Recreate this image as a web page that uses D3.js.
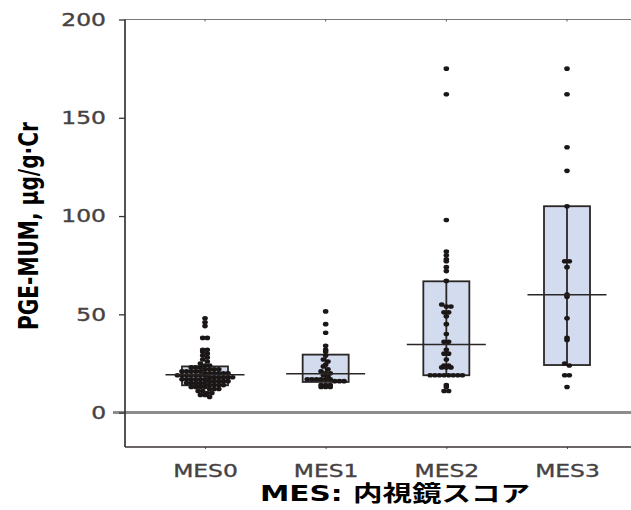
<!DOCTYPE html>
<html>
<head>
    <meta charset="utf-8" />
    <script src="https://d3js.org/d3.v7.min.js"></script>
    <style>
        body { margin: 0; background: #fff; }
        svg { display: block; }
    </style>
</head>
<body>
    <div id="chart"></div>
    <script>
        // data
        const categories = ["MES0", "MES1", "MES2", "MES3"];
        const q1 = [13.9, 15.6, 19, 24.2];
        const medians = [19.2, 19.8, 34.7, 60];
        const q3 = [23.5, 29.5, 66.8, 105];

        const mes0 = [48, 46, 44, 38, 38, 32, 32, 31, 30, 29, 28, 27, 26, 25, 24, 24, 23, 23, 23,
            22, 22, 22, 22, 21, 21, 21, 21, 21, 20, 20, 20, 20, 20, 20,
            19, 19, 19, 19, 19, 19, 19, 18, 18, 18, 18, 18, 18,
            17, 17, 17, 17, 17, 17, 16, 16, 16, 16, 16, 15, 15, 15, 15, 15,
            14, 14, 14, 14, 13, 13, 13, 13, 12, 12, 12, 11, 11, 10, 10, 9, 9, 8];
        const mes1 = [51.5, 45, 40.6, 34, 32, 31, 29, 27, 26, 24.4, 23.5, 22, 21, 20, 20, 19, 18.5,
            17, 17, 17, 17, 17, 17, 16, 16, 16, 14, 14, 14, 13, 13, 13];
        const mes2 = [175, 162, 98, 82, 80, 78, 77, 74, 72, 67, 55, 54, 54, 51, 51, 49, 45, 40,
            36, 36, 32, 30, 30, 27, 24, 24, 23, 23, 23, 19, 19, 19, 19, 19, 19, 19, 19, 14, 13, 11, 11];
        const mes3 = [175, 162, 135, 123, 105, 77, 77, 74, 60, 59, 48, 38, 37, 25, 24, 19, 19, 13];
        const points = [mes0, mes1, mes2, mes3];

        const yTicks = [0, 50, 100, 150, 200];
        const xTitle = "MES: 内視鏡スコア";
        const yTitle = "PGE-MUM, μg/g·Cr";

        const width = 631, height = 510;
        const plotLeft = 125, plotRight = 631, plotTop = 19.5, plotBottom = 447;
        // the original picture is stretched sideways, so text is widened too
        const stretch = 1.3;

        const svg = d3.select("#chart").append("svg")
            .attr("width", width)
            .attr("height", height);

        const y = d3.scaleLinear()
            .domain([-17.5, 200])
            .range([plotBottom, plotTop]);

        const x = d3.scalePoint()
            .domain(categories)
            .range([205, 567]);

        // frame line on top
        svg.append("line")
            .attr("x1", plotLeft).attr("x2", plotRight)
            .attr("y1", plotTop).attr("y2", plotTop)
            .attr("stroke", "#7a7a7a").attr("stroke-width", 1.2);

        // zero line
        svg.append("line")
            .attr("x1", 113).attr("x2", plotRight)
            .attr("y1", y(0)).attr("y2", y(0))
            .attr("stroke", "#8c8c8c").attr("stroke-width", 3);

        // y axis
        const yAxis = svg.append("g")
            .attr("transform", `translate(${plotLeft},0)`)
            .call(d3.axisLeft(y).tickValues(yTicks).tickSize(6).tickSizeOuter(0));
        yAxis.select(".domain").remove();
        yAxis.selectAll(".tick line").attr("stroke", "#3a3434").attr("stroke-width", 1.3);
        yAxis.selectAll(".tick text")
            .attr("x", -19 / stretch)
            .attr("transform", `scale(${stretch},1)`)
            .style("font-family", "DejaVu Sans, Verdana, sans-serif")
            .style("font-size", "18px")
            .attr("fill", "#464242")
            .attr("stroke", "#464242")
            .attr("stroke-width", 0.35);
        svg.append("line")
            .attr("x1", plotLeft).attr("x2", plotLeft)
            .attr("y1", plotTop).attr("y2", plotBottom)
            .attr("stroke", "#3a3434").attr("stroke-width", 1.7);

        // x axis
        const xAxis = svg.append("g")
            .attr("transform", `translate(0,${plotBottom})`)
            .call(d3.axisBottom(x).tickSize(2).tickSizeOuter(0));
        xAxis.select(".domain").remove();
        xAxis.selectAll(".tick line").attr("stroke", "#555");
        xAxis.selectAll(".tick text")
            .attr("y", 30)
            .attr("dy", 0)
            .attr("transform", `scale(${stretch},1)`)
            .style("font-family", "DejaVu Sans, Verdana, sans-serif")
            .style("font-size", "18px")
            .attr("fill", "#464242")
            .attr("stroke", "#464242")
            .attr("stroke-width", 0.35);
        svg.append("line")
            .attr("x1", plotLeft).attr("x2", plotRight)
            .attr("y1", plotBottom).attr("y2", plotBottom)
            .attr("stroke", "#3a3434").attr("stroke-width", 1.6);

        // top tick marks
        svg.selectAll(".top-tick")
            .data(categories)
            .enter().append("line")
            .attr("x1", d => x(d)).attr("x2", d => x(d))
            .attr("y1", plotTop).attr("y2", plotTop + 2)
            .attr("stroke", "#555");

        const boxW = 46, medW = 79;
        const boxStroke = "#2a2626";

        // boxes
        const groups = svg.selectAll(".group")
            .data(categories)
            .enter().append("g")
            .attr("class", "group");

        groups.append("rect")
            .attr("x", d => x(d) - boxW / 2)
            .attr("y", (d, i) => y(q3[i]))
            .attr("width", boxW)
            .attr("height", (d, i) => y(q1[i]) - y(q3[i]))
            .attr("fill", "#d3dbef")
            .attr("stroke", boxStroke)
            .attr("stroke-width", 1.8);

        groups.append("line")
            .attr("x1", d => x(d)).attr("x2", d => x(d))
            .attr("y1", (d, i) => y(q3[i]))
            .attr("y2", (d, i) => y(q1[i]))
            .attr("stroke", boxStroke)
            .attr("stroke-width", 1.8);

        // dots, stacked sideways when values fall in the same bin
        const binSize = 2;
        const dotStep = 4.6;
        points.forEach((vals, gi) => {
            const bins = d3.group(vals, v => Math.floor(v / binSize));
            const layout = [];
            bins.forEach(arr => {
                arr.forEach((v, j) => {
                    layout.push({ v: v, off: (j - (arr.length - 1) / 2) * dotStep });
                });
            });
            svg.append("g").selectAll("ellipse")
                .data(layout)
                .enter().append("ellipse")
                .attr("cx", d => x(categories[gi]) + d.off)
                .attr("cy", d => y(d.v))
                .attr("rx", 2.8)
                .attr("ry", 2.3)
                .attr("fill", "#1c1717");
        });

        // median lines
        svg.selectAll(".median")
            .data(categories)
            .enter().append("line")
            .attr("x1", d => x(d) - medW / 2)
            .attr("x2", d => x(d) + medW / 2)
            .attr("y1", (d, i) => y(medians[i]))
            .attr("y2", (d, i) => y(medians[i]))
            .attr("stroke", boxStroke)
            .attr("stroke-width", 1.5);

        // titles
        svg.append("text")
            .attr("x", 395)
            .attr("y", 501)
            .attr("text-anchor", "middle")
            .attr("textLength", 270)
            .attr("lengthAdjust", "spacingAndGlyphs")
            .style("font-family", "DejaVu Sans, 'Noto Sans CJK JP', sans-serif")
            .style("font-weight", "bold")
            .style("font-size", "22px")
            .attr("fill", "#000")
            .text(xTitle);

        svg.append("text")
            .attr("transform", "translate(38,226) rotate(-90) scale(1,1.3)")
            .attr("text-anchor", "middle")
            .attr("textLength", 208)
            .attr("lengthAdjust", "spacingAndGlyphs")
            .style("font-family", "DejaVu Sans, Verdana, sans-serif")
            .style("font-weight", "bold")
            .style("font-size", "20px")
            .attr("fill", "#000")
            .text(yTitle);
    </script>
</body>
</html>
